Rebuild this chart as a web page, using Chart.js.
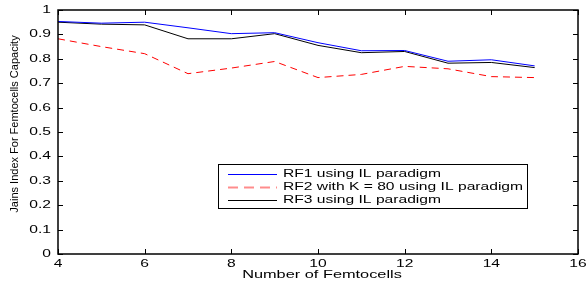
<!DOCTYPE html>
<html>
<head>
<meta charset="utf-8">
<script src="https://cdn.jsdelivr.net/npm/chart.js@4"></script>
<style>
html,body{margin:0;padding:0;background:#fff;}
#wrap{width:586px;height:287px;}
</style>
</head>
<body>
<div id="wrap"><canvas id="grafico" width="586" height="287"></canvas></div>
<script>
// datos
const femtocells=[4,5,6,7,8,9,10,11,12,13,14,15];
const rf1=[0.953,0.946,0.950,0.927,0.903,0.907,0.866,0.833,0.834,0.790,0.796,0.771];
const rf2=[0.882,0.850,0.821,0.739,0.762,0.789,0.723,0.736,0.769,0.759,0.727,0.723];
const rf3=[0.950,0.942,0.939,0.882,0.882,0.903,0.855,0.825,0.830,0.782,0.785,0.764];
const nombres=["RF1 using IL paradigm","RF2 with K = 80 using IL paradigm","RF3 using IL paradigm"];
const colores=["#0000ff","#ff0000","#000000"];
const guiones=[[],[7,5],[]];
const xTicks=[4,6,8,10,12,14,16];
const yTicks=[0,0.1,0.2,0.3,0.4,0.5,0.6,0.7,0.8,0.9,1];
const tituloX="Number of Femtocells";
const tituloY="Jains Index For Femtocells Capacity";

const fuente="Liberation Sans, Arial, sans-serif";
const estirar=1.42; // el texto del original sale ensanchado

function puntos(ys){return femtocells.map((x,i)=>({x:x,y:ys[i]}));}

function texto(c,t,x,y,alin){
  c.save();
  c.translate(x,y);
  c.scale(estirar,1);
  c.textAlign=alin;
  c.fillText(t,0,0);
  c.restore();
}

// caja, marcas hacia dentro, textos y leyenda
const cajaMatlab={
  id:"cajaMatlab",
  afterDatasetsDraw(chart){
    const c=chart.ctx,a=chart.chartArea;
    const sx=chart.scales.x,sy=chart.scales.y;
    c.save();
    c.strokeStyle="#000";
    c.lineWidth=1;
    c.beginPath();
    xTicks.forEach(v=>{
      const px=Math.round(sx.getPixelForValue(v))+0.5;
      c.moveTo(px,a.bottom);c.lineTo(px,a.bottom-5);
      c.moveTo(px,a.top);c.lineTo(px,a.top+5);
    });
    yTicks.forEach(v=>{
      const py=Math.round(sy.getPixelForValue(v))+0.5;
      c.moveTo(a.left,py);c.lineTo(a.left+5,py);
      c.moveTo(a.right,py);c.lineTo(a.right-5,py);
    });
    c.stroke();
    c.lineWidth=1.5;
    c.strokeRect(a.left,a.top,a.right-a.left,a.bottom-a.top);

    // etiquetas
    c.fillStyle="#000";
    c.font="11px "+fuente;
    c.textBaseline="middle";
    xTicks.forEach(v=>texto(c,String(v),sx.getPixelForValue(v),a.bottom+10,"center"));
    yTicks.forEach(v=>texto(c,String(v),a.left-7,sy.getPixelForValue(v),"right"));
    c.font="11.5px "+fuente;
    texto(c,tituloX,(a.left+a.right)/2+4,a.bottom+21,"center");
    c.save();
    c.translate(15,(a.top+a.bottom)/2-8);
    c.rotate(-Math.PI/2);
    c.font="11px Liberation Sans Narrow, "+fuente;
    c.textAlign="center";
    c.fillText(tituloY,0,0);
    c.restore();

    // leyenda
    const lx=218.5,ly=164.5,lw=309,lh=44;
    c.fillStyle="#fff";
    c.fillRect(lx,ly,lw,lh);
    c.lineWidth=1;
    c.strokeRect(lx,ly,lw,lh);
    c.font="11px "+fuente;
    nombres.forEach((n,i)=>{
      const y=ly+9+i*13;
      const punteada=guiones[i].length>0;
      c.strokeStyle=punteada?"rgba(255,0,0,0.45)":colores[i];
      c.lineWidth=punteada?2:1;
      c.setLineDash(punteada?[10,6]:[]);
      c.beginPath();c.moveTo(228,Math.round(y)+0.5);c.lineTo(277,Math.round(y)+0.5);c.stroke();
      c.setLineDash([]);
      c.fillStyle="#000";
      texto(c,n,283,y,"left");
    });
    c.restore();
  }
};

new Chart(document.getElementById("grafico"),{
  type:"line",
  data:{
    datasets:[rf1,rf2,rf3].map((ys,i)=>({
      label:nombres[i],data:puntos(ys),borderColor:colores[i],borderWidth:1,
      borderDash:guiones[i],pointRadius:0,tension:0
    }))
  },
  options:{
    responsive:false,
    animation:false,
    layout:{padding:{top:10,right:8,left:0,bottom:0}},
    plugins:{legend:{display:false},tooltip:{enabled:false}},
    scales:{
      x:{
        type:"linear",min:4,max:16,
        afterFit(s){s.height=33;},
        grid:{display:false,drawTicks:false},
        border:{display:false},
        ticks:{display:false}
      },
      y:{
        type:"linear",min:0,max:1,
        afterFit(s){s.width=58;},
        grid:{display:false,drawTicks:false},
        border:{display:false},
        ticks:{display:false}
      }
    }
  },
  plugins:[cajaMatlab]
});
</script>
</body>
</html>
